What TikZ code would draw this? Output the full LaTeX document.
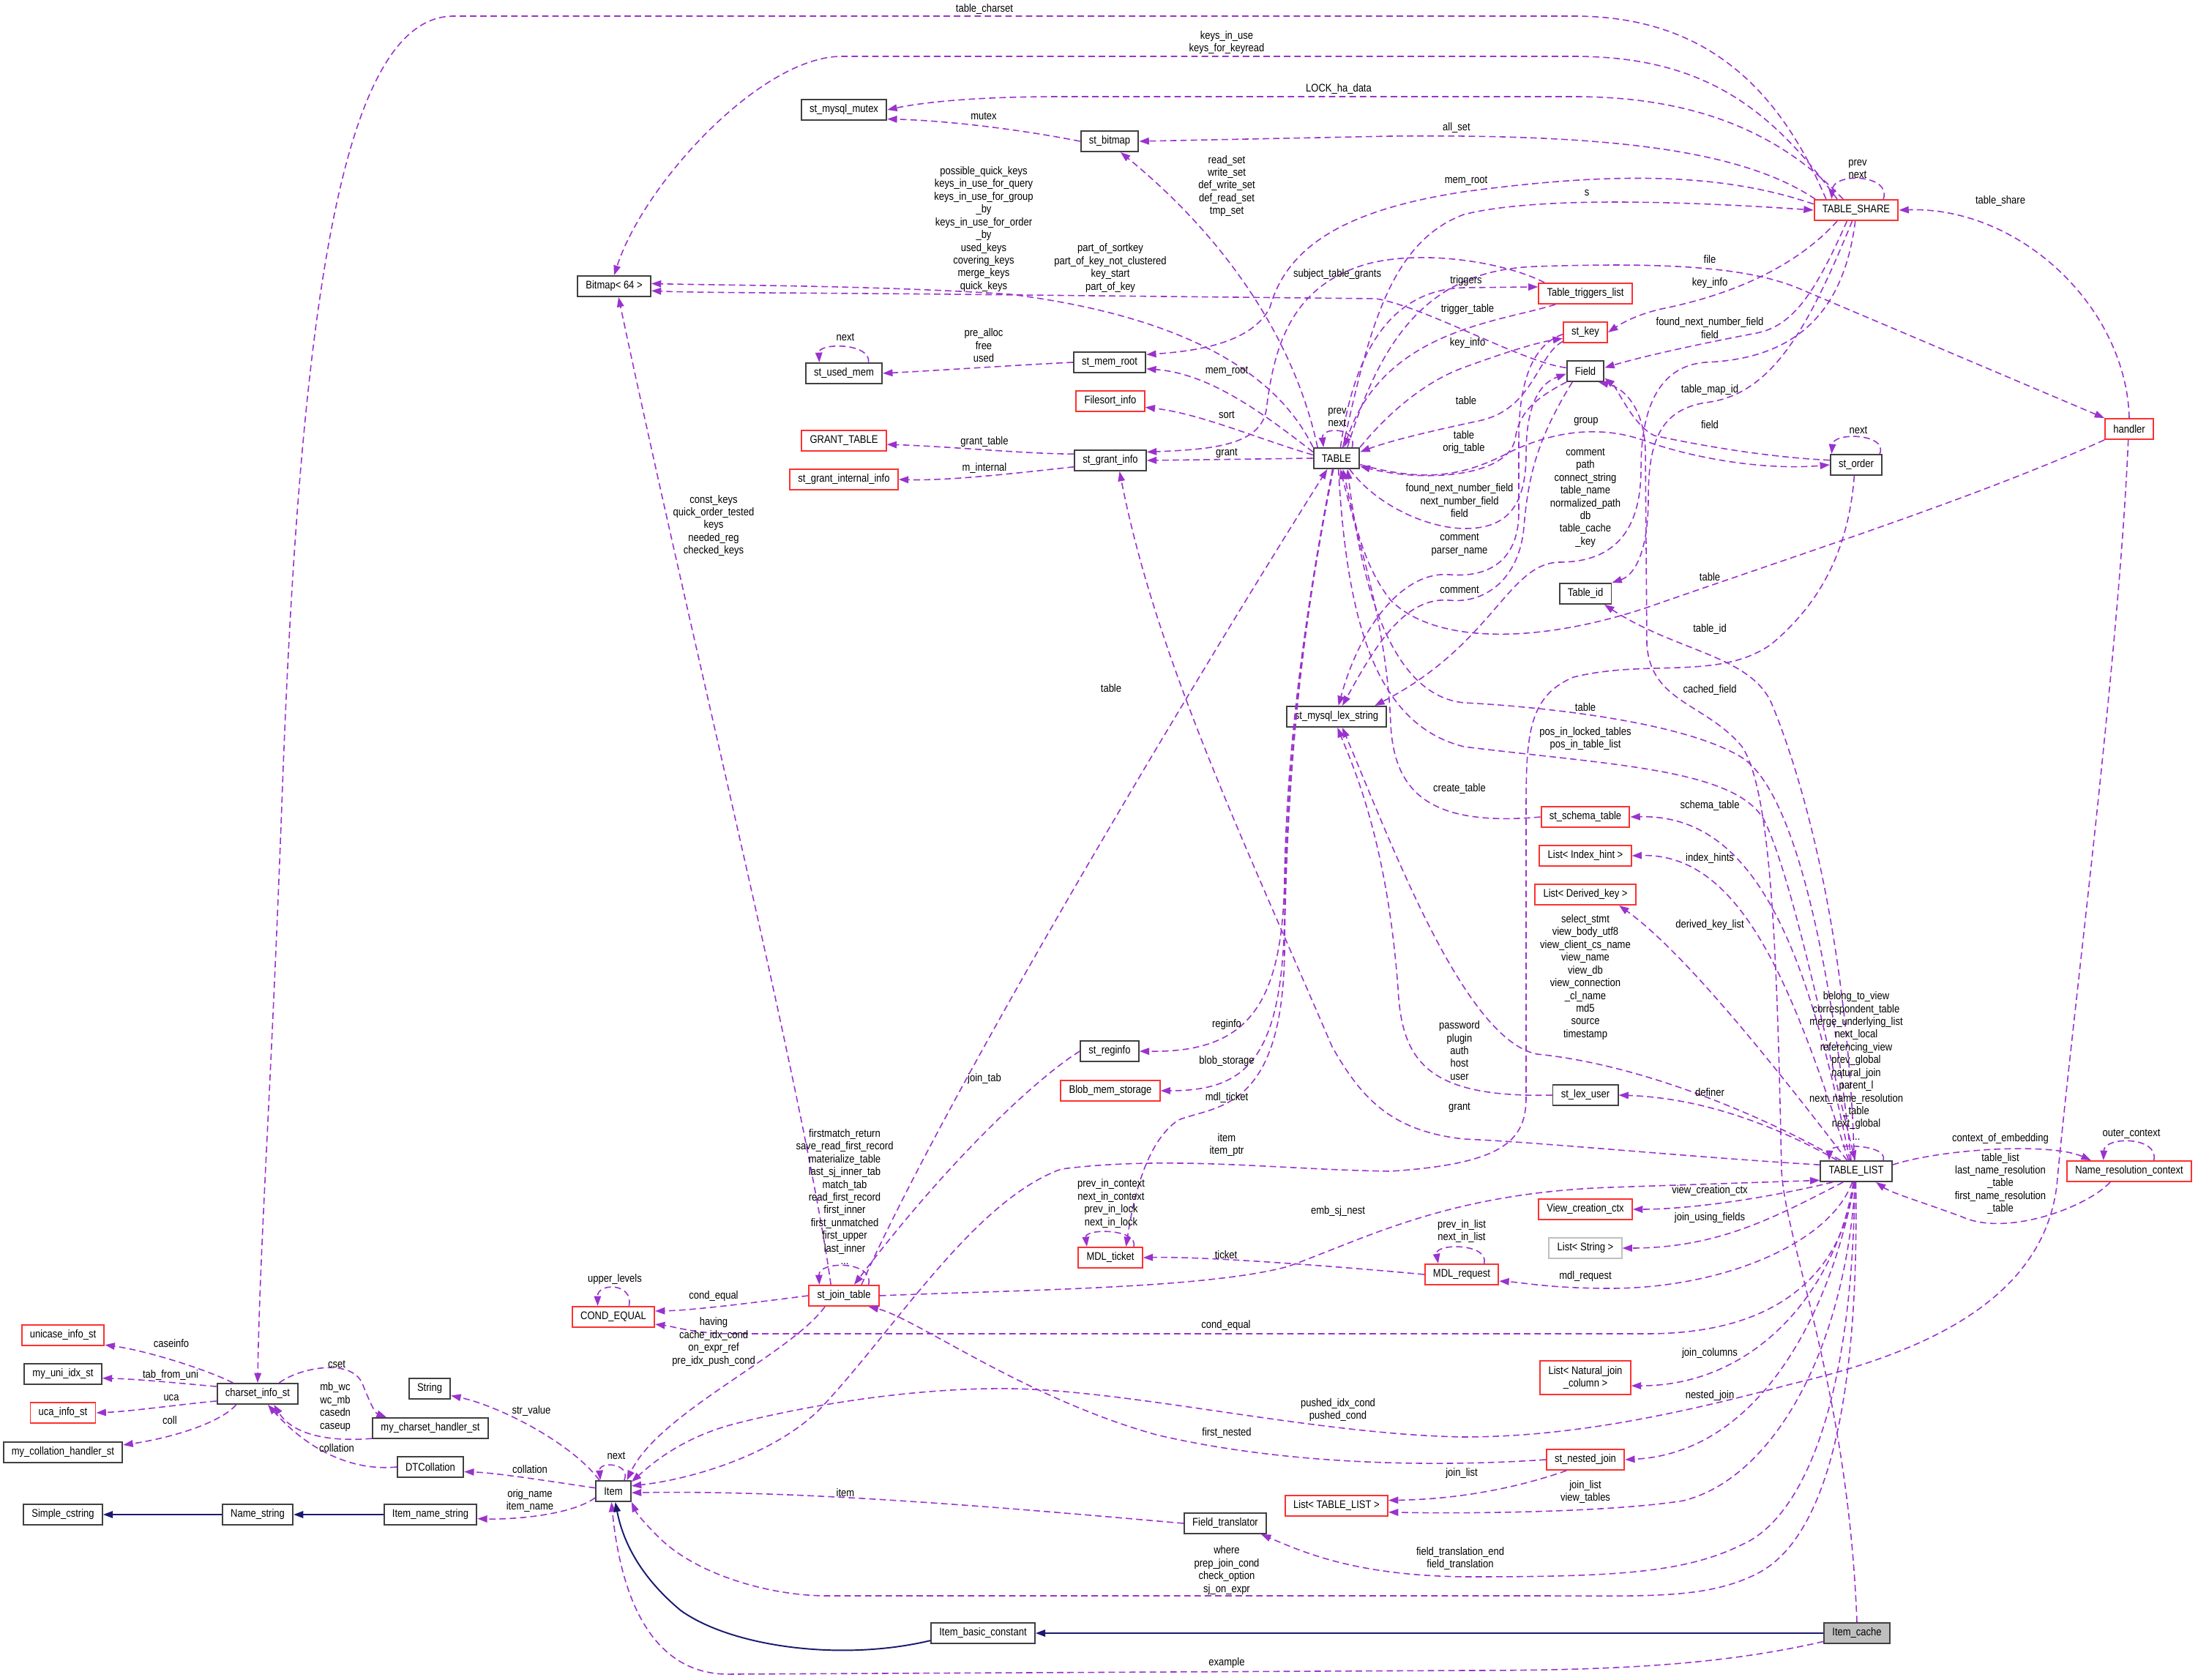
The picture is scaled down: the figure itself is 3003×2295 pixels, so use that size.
\documentclass[tikz,border=0pt]{standalone}
\usepackage{fontspec}
\newfontfamily\dxfont{Liberation Sans}[FakeStretch=0.86]
\usetikzlibrary{arrows.meta}
\definecolor{relpurple}{HTML}{9A32CD}
\definecolor{inhnavy}{HTML}{191970}
\definecolor{boxred}{HTML}{FF3030}
\definecolor{boxgray}{HTML}{BFBFBF}
\definecolor{boxdark}{HTML}{404040}
\newcommand{\dxsize}{\fontsize{4.3}{4.95}\selectfont}

\begin{document}
\begin{tikzpicture}[x=0.01cm,y=-0.01cm,
  cls/.style={draw=boxdark,line width=0.55pt,fill=white,font=\dxfont\dxsize,inner xsep=3.2pt,inner ysep=0pt,minimum height=0.28cm},
  redcls/.style={cls,draw=boxred},
  graycls/.style={cls,draw=boxgray},
  focuscls/.style={cls,fill=boxgray},
  rel/.style={relpurple,line width=0.45pt,dash pattern=on 2.5pt off 1.5pt,-{Triangle[length=3.8pt,width=2.7pt]}},
  inh/.style={inhnavy,line width=0.55pt,-{Triangle[length=3.8pt,width=2.7pt]}},
  lbl/.style={font=\dxfont\dxsize,align=center,inner sep=0pt}]
\useasboundingbox (0,0) rectangle (3003,2295);

% classes
\node[cls] (bitmap) at (839,391) {Bitmap< 64 >};
\node[cls] (mutex) at (1153,150) {st\_mysql\_mutex};
\node[cls] (stbitmap) at (1516,193) {st\_bitmap};
\node[cls] (usedmem) at (1153,510) {st\_used\_mem};
\node[cls] (memroot) at (1516,495) {st\_mem\_root};
\node[redcls] (filesort) at (1517,548) {Filesort\_info};
\node[redcls] (granttable) at (1153,602) {GRANT\_TABLE};
\node[cls] (grantinfo) at (1517,629) {st\_grant\_info};
\node[redcls] (grantint) at (1153,655) {st\_grant\_internal\_info};
\node[cls] (table) at (1826,626) {TABLE};
\node[redcls] (share) at (2536,287) {TABLE\_SHARE};
\node[redcls] (triggers) at (2166,401) {Table\_triggers\_list};
\node[redcls] (stkey) at (2166,454) {st\_key};
\node[cls] (field) at (2166,507) {Field};
\node[redcls] (handler) at (2909,586) {handler};
\node[cls] (order) at (2536,635) {st\_order};
\node[cls] (tableid) at (2166,811) {Table\_id};
\node[cls] (lexstr) at (1826,979) {st\_mysql\_lex\_string};
\node[redcls] (schema) at (2166,1116) {st\_schema\_table};
\node[redcls] (idxhint) at (2166,1169) {List< Index\_hint >};
\node[redcls] (derived) at (2166,1222) {List< Derived\_key >};
\node[cls] (lexuser) at (2166,1496) {st\_lex\_user};
\node[cls] (reginfo) at (1516,1436) {st\_reginfo};
\node[redcls] (blob) at (1517,1490) {Blob\_mem\_storage};
\node[cls] (tlist) at (2536,1600) {TABLE\_LIST};
\node[redcls] (nrctx) at (2909,1600) {Name\_resolution\_context};
\node[redcls] (viewctx) at (2166,1652) {View\_creation\_ctx};
\node[graycls] (liststr) at (2166,1705) {List< String >};
\node[redcls] (mdlreq) at (1997,1741) {MDL\_request};
\node[redcls] (mdlticket) at (1517,1718) {MDL\_ticket};
\node[redcls] (jointab) at (1153,1770) {st\_join\_table};
\node[redcls] (condeq) at (838,1799) {COND\_EQUAL};
\node[redcls,minimum height=0.46cm,align=center] (natjoin) at (2166,1882) {List< Natural\_join\\\_column >};
\node[redcls] (nested) at (2166,1994) {st\_nested\_join};
\node[redcls] (listtl) at (1826,2057) {List< TABLE\_LIST >};
\node[cls] (ftrans) at (1674,2081) {Field\_translator};
\node[cls] (basicconst) at (1343,2231) {Item\_basic\_constant};
\node[focuscls] (itemcache) at (2537,2231) {Item\_cache};
\node[cls] (item) at (838,2037) {Item};
\node[cls] (string) at (587,1897) {String};
\node[cls] (handlerst) at (588,1951) {my\_charset\_handler\_st};
\node[cls] (dtcoll) at (588,2004) {DTCollation};
\node[cls] (namestr) at (588,2069) {Item\_name\_string};
\node[cls] (namestring) at (352,2069) {Name\_string};
\node[cls] (cstring) at (86,2069) {Simple\_cstring};
\node[cls] (charset) at (352,1904) {charset\_info\_st};
\node[redcls] (unicase) at (86,1824) {unicase\_info\_st};
\node[cls] (uniidx) at (86,1877) {my\_uni\_idx\_st};
\node[redcls] (uca) at (86,1930) {uca\_info\_st};
\node[cls] (collhandler) at (86,1984) {my\_collation\_handler\_st};

% TABLE_SHARE members
\draw[rel] (share.160) .. controls (2430,120) and (2330,22) .. (2150,22) -- (620,22) .. controls (470,22) and (410,400) .. (385,1100) .. controls (370,1500) and (355,1700) .. (charset.north);
\draw[rel] (share.150) .. controls (2420,150) and (2330,77) .. (2150,77) -- (1150,77) .. controls (1040,77) and (880,250) .. (bitmap.north);
\draw[rel] (share.140) .. controls (2440,190) and (2330,132) .. (2150,132) -- (1450,132) .. controls (1330,132) and (1260,140) .. (mutex.east);
\draw[rel] (share.165) .. controls (2380,205) and (2200,183) .. (1900,186) -- (stbitmap.east);
\draw[rel] (share.172) .. controls (2350,235) and (2200,235) .. (2000,262) .. controls (1850,285) and (1760,330) .. (1735,420) .. controls (1710,470) and (1630,480) .. (memroot.12);
\draw[rel] (share.22) .. controls (2585,238) and (2505,235) .. (share.156);
\draw[rel] (share.-150) .. controls (2440,380) and (2330,410) .. (2270,422) .. controls (2235,430) and (2215,442) .. (stkey.east);
\draw[rel] (share.-130) .. controls (2480,400) and (2450,445) .. (2400,455) .. controls (2320,470) and (2240,488) .. (field.10);
\draw[rel] (share.-110) .. controls (2470,450) and (2420,540) .. (2330,550) .. controls (2270,560) and (2252,600) .. (2252,680) .. controls (2252,750) and (2235,785) .. (tableid.north east);
\draw[rel] (share.-95) .. controls (2520,420) and (2460,490) .. (2330,495) .. controls (2265,500) and (2242,560) .. (2242,640) .. controls (2242,720) and (2210,768) .. (2130,768) .. controls (2060,770) and (2040,880) .. (lexstr.16);
\draw[rel] (stbitmap.west) .. controls (1400,178) and (1300,165) .. (mutex.-12);
\draw[rel] (handler.north) .. controls (2905,420) and (2760,282) .. (share.east);

% TABLE members
\draw[rel] (table.150) .. controls (1770,470) and (1680,330) .. (stbitmap.-45);
\draw[rel] (table.165) .. controls (1720,560) and (1650,510) .. (memroot.-10);
\draw[rel] (table.60) .. controls (1870,450) and (1900,330) .. (2000,293) .. controls (2100,268) and (2300,275) .. (share.west);
\draw[rel] (table.45) .. controls (1890,450) and (1960,368) .. (2100,364) .. controls (2280,358) and (2390,365) .. (2460,395) -- (handler.north west);
\draw[rel] (table.172) .. controls (1720,600) and (1640,565) .. (filesort.-10);
\draw[rel] (table.west) -- (grantinfo.east);
\draw[rel] (table.35) .. controls (1855,583) and (1805,583) .. (table.140);
\draw[rel] (table.70) .. controls (1850,480) and (1900,396) .. (2000,393) -- (triggers.172);
\draw[rel] (table.25) .. controls (1900,560) and (1950,520) .. (2000,502) .. controls (2060,480) and (2100,468) .. (stkey.-165);
\draw[rel] (table.-40) .. controls (1880,690) and (1950,722) .. (2002,722) .. controls (2060,722) and (2085,690) .. (2085,620) .. controls (2085,560) and (2100,525) .. (field.-172);
\draw[rel] (table.-15) .. controls (1950,660) and (2000,650) .. (2064,617) .. controls (2110,595) and (2180,575) .. (2255,605) .. controls (2330,630) and (2420,642) .. (order.west);
\draw[rel] (table.155) .. controls (1740,500) and (1600,430) .. (1380,402) .. controls (1200,390) and (1000,390) .. (bitmap.4);
\draw[rel] (table.-80) .. controls (1840,850) and (1880,990) .. (2000,1020) .. controls (2200,1045) and (2370,1050) .. (2410,1120) .. controls (2450,1200) and (2500,1450) .. (tlist.95);
\draw[rel] (table.-110) .. controls (1790,800) and (1758,1000) .. (1755,1200) .. controls (1752,1380) and (1700,1438) .. (reginfo.east);
\draw[rel] (table.-108) .. controls (1790,800) and (1758,1000) .. (1755,1250) .. controls (1752,1450) and (1700,1490) .. (blob.east);
\draw[rel] (table.-106) .. controls (1790,800) and (1758,1000) .. (1755,1300) .. controls (1752,1520) and (1660,1510) .. (1610,1530) .. controls (1565,1560) and (1548,1640) .. (mdlticket.35);

% small classes round TABLE
\draw[rel] (memroot.west) .. controls (1400,498) and (1300,505) .. (usedmem.east);
\draw[rel] (usedmem.24) .. controls (1190,468) and (1118,468) .. (usedmem.156);
\draw[rel] (grantinfo.170) .. controls (1400,620) and (1300,610) .. (granttable.-5);
\draw[rel] (grantinfo.-170) .. controls (1400,645) and (1300,657) .. (grantint.east);
\draw[rel] (triggers.165) .. controls (2060,360) and (1950,340) .. (1870,360) .. controls (1760,390) and (1740,480) .. (1730,560) .. controls (1722,610) and (1650,614) .. (grantinfo.13);
\draw[rel] (triggers.-160) .. controls (2050,440) and (1890,450) .. (table.55);
\draw[rel] (stkey.-158) .. controls (2100,485) and (2095,560) .. (2020,575) .. controls (1950,590) and (1900,602) .. (table.15);
\draw[rel] (stkey.-175) .. controls (2090,472) and (2075,530) .. (2075,600) -- (2075,700) .. controls (2075,760) and (2040,790) .. (1980,785) .. controls (1920,780) and (1860,850) .. (lexstr.80);
\draw[rel] (field.-150) .. controls (2095,545) and (2075,565) .. (2070,600) .. controls (2060,650) and (1950,660) .. (table.-19);
\draw[rel] (field.-140) .. controls (2100,600) and (2088,650) .. (2082,720) .. controls (2076,790) and (2030,825) .. (1980,820) .. controls (1920,815) and (1880,880) .. (lexstr.62);
\draw[rel] (field.170) .. controls (2080,495) and (1950,420) .. (1880,408) -- (1300,402) .. controls (1100,400) and (950,400) .. (bitmap.-7);
\draw[rel] (order.170) .. controls (2420,625) and (2330,610) .. (2260,595) .. controls (2230,580) and (2210,530) .. (field.-20);
\draw[rel] (order.25) .. controls (2580,592) and (2505,590) .. (order.156);
\draw[rel] (order.-100) .. controls (2525,760) and (2480,830) .. (2420,880) .. controls (2350,930) and (2250,900) .. (2150,925) .. controls (2090,950) and (2085,1000) .. (2085,1100) -- (2085,1500) .. controls (2085,1560) and (2050,1590) .. (1900,1600) .. controls (1750,1598) and (1600,1578) .. (1450,1597) .. controls (1330,1640) and (1220,1820) .. (1120,1925) .. controls (1060,1985) and (950,2020) .. (item.16);
\draw[rel] (handler.south west) .. controls (2700,680) and (2450,760) .. (2250,830) .. controls (2100,880) and (1960,880) .. (1900,820) .. controls (1860,770) and (1848,700) .. (table.-60);
\draw[rel] (handler.-95) .. controls (2895,900) and (2830,1400) .. (2810,1620) .. controls (2790,1780) and (2620,1850) .. (2450,1890) .. controls (2300,1930) and (2150,1963) .. (2000,1963) .. controls (1800,1960) and (1550,1900) .. (1383,1897) .. controls (1250,1895) and (1100,1920) .. (1000,1946) .. controls (930,1965) and (890,2000) .. (item.27);
\draw[rel] (schema.west) .. controls (1950,1130) and (1905,1080) .. (1900,990) .. controls (1895,850) and (1850,720) .. (table.-70);
\draw[rel] (lexuser.west) .. controls (1950,1500) and (1915,1450) .. (1910,1350) .. controls (1895,1150) and (1850,1050) .. (lexstr.-85);
\draw[rel] (itemcache.north) .. controls (2525,1900) and (2440,1700) .. (2434,1600) .. controls (2428,1300) and (2420,1080) .. (2380,1020) .. controls (2330,960) and (2255,960) .. (2250,880) -- (2248,620) .. controls (2248,560) and (2220,530) .. (field.-40);

% TABLE_LIST members
\draw[rel] (tlist.100) .. controls (2525,1300) and (2470,1080) .. (2420,960) .. controls (2390,895) and (2290,890) .. (tableid.-30);
\draw[rel] (tlist.115) .. controls (2500,1300) and (2450,1080) .. (2380,1035) .. controls (2300,985) and (2100,965) .. (2000,960) .. controls (1900,950) and (1860,800) .. (table.-45);
\draw[rel] (tlist.120) .. controls (2470,1300) and (2400,1112) .. (schema.east);
\draw[rel] (tlist.125) .. controls (2450,1350) and (2380,1165) .. (idxhint.east);
\draw[rel] (tlist.130) .. controls (2420,1450) and (2300,1300) .. (derived.-18);
\draw[rel] (tlist.145) .. controls (2420,1530) and (2250,1455) .. (2100,1440) .. controls (2000,1420) and (1900,1150) .. (lexstr.-62);
\draw[rel] (tlist.150) .. controls (2430,1540) and (2330,1500) .. (lexuser.east);
\draw[rel] (tlist.170) .. controls (2300,1580) and (2100,1560) .. (2000,1556) .. controls (1900,1545) and (1860,1500) .. (1820,1430) .. controls (1700,1150) and (1580,900) .. (grantinfo.-50);
\draw[rel] (tlist.22) .. controls (2580,1562) and (2500,1562) .. (tlist.158);
\draw[rel] (tlist.10) .. controls (2650,1570) and (2800,1560) .. (nrctx.164);
\draw[rel] (nrctx.-150) .. controls (2850,1650) and (2740,1690) .. (2680,1662) .. controls (2620,1640) and (2585,1630) .. (tlist.-29);
\draw[rel] (nrctx.24) .. controls (2950,1552) and (2875,1552) .. (nrctx.157);
\draw[rel] (tlist.-155) .. controls (2400,1640) and (2300,1652) .. (viewctx.east);
\draw[rel] (tlist.-140) .. controls (2430,1660) and (2350,1705) .. (liststr.east);
\draw[rel] (tlist.-110) .. controls (2500,1700) and (2350,1760) .. (2200,1760) .. controls (2120,1760) and (2080,1752) .. (mdlreq.-10);
\draw[rel] (tlist.-100) .. controls (2520,1720) and (2450,1822) .. (2250,1822) -- (1000,1822) .. controls (950,1822) and (920,1812) .. (condeq.-10);
\draw[rel] (tlist.-105) .. controls (2510,1760) and (2400,1893) .. (natjoin.-10);
\draw[rel] (tlist.-98) .. controls (2500,1800) and (2400,1985) .. (nested.east);
\draw[rel] (tlist.-95) .. controls (2520,1850) and (2420,2020) .. (2300,2050) .. controls (2200,2066) and (2000,2068) .. (listtl.-7);
\draw[rel] (tlist.-97) .. controls (2530,1950) and (2450,2080) .. (2380,2110) .. controls (2300,2150) and (2200,2154) .. (2000,2154) .. controls (1850,2152) and (1780,2120) .. (ftrans.-17);
\draw[rel] (tlist.-92) .. controls (2540,1900) and (2500,2100) .. (2400,2150) .. controls (2330,2185) and (2250,2180) .. (2100,2180) -- (1130,2180) .. controls (1050,2180) and (950,2150) .. (900,2100) .. controls (880,2080) and (870,2068) .. (item.-31);

% join and lock structures
\draw[rel] (jointab.32) .. controls (1300,1480) and (1650,900) .. (table.-130);
\draw[rel] (reginfo.west) .. controls (1420,1470) and (1300,1580) .. (jointab.47);
\draw[rel] (jointab.140) .. controls (1100,1500) and (950,900) .. (bitmap.-68);
\draw[rel] (jointab.24) .. controls (1195,1722) and (1118,1722) .. (jointab.156);
\draw[rel] (jointab.west) .. controls (1040,1778) and (950,1790) .. (condeq.8);
\draw[rel] (condeq.35) .. controls (866,1752) and (816,1752) .. (condeq.145);
\draw[rel] (jointab.-150) .. controls (1080,1850) and (900,1930) .. (item.39);
\draw[rel] (jointab.east) .. controls (1400,1762) and (1650,1760) .. (1760,1730) .. controls (1870,1690) and (1980,1630) .. (2200,1622) -- (tlist.-166);
\draw[rel] (mdlticket.25) .. controls (1555,1678) and (1482,1678) .. (mdlticket.155);
\draw[rel] (mdlreq.west) .. controls (1850,1732) and (1650,1716) .. (mdlticket.east);
\draw[rel] (mdlreq.26) .. controls (2035,1698) and (1960,1698) .. (mdlreq.155);
\draw[rel] (nested.west) .. controls (1950,2005) and (1750,2000) .. (1580,1960) .. controls (1400,1910) and (1250,1800) .. (jointab.-24);
\draw[rel] (nested.-150) .. controls (2080,2030) and (2000,2048) .. (listtl.6);
\draw[rel] (ftrans.west) .. controls (1400,2062) and (1100,2035) .. (item.-5);
\draw[rel] (itemcache.-166) .. controls (2350,2275) and (2200,2282) .. (2000,2282) -- (1000,2287) .. controls (900,2290) and (850,2200) .. (item.-100);

% Item and strings
\draw[inh] (basicconst.-172) .. controls (1150,2270) and (1000,2250) .. (930,2200) .. controls (870,2150) and (850,2100) .. (item.-80);
\draw[inh] (itemcache.west) -- (basicconst.east);
\draw[inh] (namestr.west) -- (namestring.east);
\draw[inh] (namestring.west) -- (cstring.east);
\draw[rel] (item.142) .. controls (780,1970) and (680,1920) .. (string.-18);
\draw[rel] (item.170) .. controls (760,2025) and (680,2012) .. (dtcoll.-8);
\draw[rel] (item.-160) .. controls (780,2070) and (700,2076) .. (namestr.-5);
\draw[rel] (item.45) .. controls (862,1998) and (818,1996) .. (item.140);
\draw[rel] (dtcoll.west) .. controls (480,2010) and (420,1980) .. (charset.-47);
\draw[rel] (charset.27) .. controls (410,1868) and (480,1855) .. (495,1890) .. controls (505,1915) and (512,1930) .. (handlerst.166);
\draw[rel] (handlerst.-170) .. controls (450,1970) and (400,1960) .. (charset.-34);
\draw[rel] (charset.156) .. controls (280,1870) and (200,1845) .. (unicase.-13);
\draw[rel] (charset.170) .. controls (250,1890) and (190,1884) .. (uniidx.-6);
\draw[rel] (charset.-170) .. controls (250,1918) and (180,1928) .. (uca.east);
\draw[rel] (charset.-153) .. controls (300,1945) and (230,1965) .. (collhandler.7);

% labels
\node[lbl] (lTableCharset) at (1345,13) {table\_charset};
\node[lbl] (lKeysInUse) at (1676,58) {keys\_in\_use\\keys\_for\_keyread};
\node[lbl] (lLock) at (1829,122) {LOCK\_ha\_data};
\node[lbl] (lMutex) at (1344,159) {mutex};
\node[lbl] (lAllSet) at (1990,175) {all\_set};
\node[lbl] (lReadSet) at (1676,254) {read\_set\\write\_set\\def\_write\_set\\def\_read\_set\\tmp\_set};
\node[lbl] (lMemRootA) at (2003,247) {mem\_root};
\node[lbl] (lMemRootB) at (1676,507) {mem\_root};
\node[lbl] (lS) at (2168,264) {s};
\node[lbl] (lSharePrev) at (2538,231) {prev\\next};
\node[lbl] (lTableShare) at (2733,275) {table\_share};
\node[lbl] (lFile) at (2336,354) {file};
\node[lbl] (lKeyInfoA) at (2336,387) {key\_info};
\node[lbl] (lFoundA) at (2336,448) {found\_next\_number\_field\\field};
\node[lbl] (lMapId) at (2336,533) {table\_map\_id};
\node[lbl] (lSharePath) at (2166,680) {comment\\path\\connect\_string\\table\_name\\normalized\_path\\db\\table\_cache\\\_key};
\node[lbl] (lHandlerTable) at (2336,788) {table};
\node[lbl] (lTableId) at (2336,860) {table\_id};
\node[lbl] (lCached) at (2336,943) {cached\_field};
\node[lbl] (lTlTable) at (2166,966) {table};
\node[lbl] (lPos) at (2166,1009) {pos\_in\_locked\_tables\\pos\_in\_table\_list};
\node[lbl] (lCreate) at (1994,1078) {create\_table};
\node[lbl] (lSchema) at (2336,1101) {schema\_table};
\node[lbl] (lIdxHint) at (2336,1173) {index\_hints};
\node[lbl] (lDerived) at (2336,1264) {derived\_key\_list};
\node[lbl] (lSelect) at (2166,1335) {select\_stmt\\view\_body\_utf8\\view\_client\_cs\_name\\view\_name\\view\_db\\view\_connection\\\_cl\_name\\md5\\source\\timestamp};
\node[lbl] (lPassword) at (1994,1435) {password\\plugin\\auth\\host\\user};
\node[lbl] (lDefiner) at (2336,1492) {definer};
\node[lbl] (lGrantB) at (1994,1513) {grant};
\node[lbl] (lReginfo) at (1676,1400) {reginfo};
\node[lbl] (lBlob) at (1676,1450) {blob\_storage};
\node[lbl] (lMdlTicket) at (1676,1500) {mdl\_ticket};
\node[lbl] (lItemPtr) at (1676,1564) {item\\item\_ptr};
\node[lbl] (lJoinTable) at (1518,940) {table};
\node[lbl] (lJoinTab) at (1345,1474) {join\_tab};
\node[lbl] (lConstKeys) at (975,718) {const\_keys\\quick\_order\_tested\\keys\\needed\_reg\\checked\_keys};
\node[lbl] (lJoinLoop) at (1154,1635) {firstmatch\_return\\save\_read\_first\_record\\materialize\_table\\last\_sj\_inner\_tab\\match\_tab\\read\_first\_record\\first\_inner\\first\_unmatched\\first\_upper\\last\_inner\\...};
\node[lbl] (lCondEqA) at (975,1771) {cond\_equal};
\node[lbl] (lUpper) at (840,1748) {upper\_levels};
\node[lbl] (lHaving) at (975,1833) {having\\cache\_idx\_cond\\on\_expr\_ref\\pre\_idx\_push\_cond};
\node[lbl] (lCondEqB) at (1675,1811) {cond\_equal};
\node[lbl] (lTicketLoop) at (1518,1644) {prev\_in\_context\\next\_in\_context\\prev\_in\_lock\\next\_in\_lock};
\node[lbl] (lTicket) at (1675,1714) {ticket};
\node[lbl] (lReqLoop) at (1997,1682) {prev\_in\_list\\next\_in\_list};
\node[lbl] (lMdlRequest) at (2166,1744) {mdl\_request};
\node[lbl] (lEmb) at (1828,1655) {emb\_sj\_nest};
\node[lbl] (lViewCtx) at (2336,1627) {view\_creation\_ctx};
\node[lbl] (lUsing) at (2336,1664) {join\_using\_fields};
\node[lbl] (lTlLoop) at (2536,1456) {belong\_to\_view\\correspondent\_table\\merge\_underlying\_list\\next\_local\\referencing\_view\\prev\_global\\natural\_join\\parent\_l\\next\_name\_resolution\\\_table\\next\_global\\...};
\node[lbl] (lContext) at (2733,1556) {context\_of\_embedding};
\node[lbl] (lTableList) at (2733,1617) {table\_list\\last\_name\_resolution\\\_table\\first\_name\_resolution\\\_table};
\node[lbl] (lOuter) at (2912,1549) {outer\_context};
\node[lbl] (lJoinCols) at (2336,1849) {join\_columns};
\node[lbl] (lNested) at (2336,1907) {nested\_join};
\node[lbl] (lFirstNested) at (1676,1958) {first\_nested};
\node[lbl] (lJoinListA) at (1997,2013) {join\_list};
\node[lbl] (lJoinListB) at (2166,2038) {join\_list\\view\_tables};
\node[lbl] (lPushed) at (1828,1926) {pushed\_idx\_cond\\pushed\_cond};
\node[lbl] (lWhere) at (1676,2145) {where\\prep\_join\_cond\\check\_option\\sj\_on\_expr};
\node[lbl] (lFtrans) at (1995,2129) {field\_translation\_end\\field\_translation};
\node[lbl] (lItem) at (1155,2039) {item};
\node[lbl] (lExample) at (1676,2272) {example};
\node[lbl] (lItemNext) at (842,1989) {next};
\node[lbl] (lStrValue) at (726,1928) {str\_value};
\node[lbl] (lCollA) at (724,2007) {collation};
\node[lbl] (lOrigName) at (724,2050) {orig\_name\\item\_name};
\node[lbl] (lCollB) at (460,1978) {collation};
\node[lbl] (lCset) at (460,1864) {cset};
\node[lbl] (lMbWc) at (458,1922) {mb\_wc\\wc\_mb\\casedn\\caseup};
\node[lbl] (lCaseinfo) at (234,1835) {caseinfo};
\node[lbl] (lTabFromUni) at (233,1879) {tab\_from\_uni};
\node[lbl] (lUca) at (234,1909) {uca};
\node[lbl] (lColl) at (232,1940) {coll};
\node[lbl] (lSort) at (1676,567) {sort};
\node[lbl] (lGrantA) at (1676,619) {grant};
\node[lbl] (lTablePrev) at (1827,570) {prev\\next};
\node[lbl] (lPreAlloc) at (1344,472) {pre\_alloc\\free\\used};
\node[lbl] (lUsedNext) at (1155,461) {next};
\node[lbl] (lGrantTable) at (1345,604) {grant\_table};
\node[lbl] (lInternal) at (1345,640) {m\_internal};
\node[lbl] (lSubject) at (1827,375) {subject\_table\_grants};
\node[lbl] (lTriggers) at (2003,384) {triggers};
\node[lbl] (lTriggerTable) at (2005,423) {trigger\_table};
\node[lbl] (lKeyInfoB) at (2005,469) {key\_info};
\node[lbl] (lKeyTable) at (2003,547) {table};
\node[lbl] (lOrigTable) at (2000,604) {table\\orig\_table};
\node[lbl] (lFoundB) at (1994,684) {found\_next\_number\_field\\next\_number\_field\\field};
\node[lbl] (lParser) at (1994,744) {comment\\parser\_name};
\node[lbl] (lFieldComment) at (1994,806) {comment};
\node[lbl] (lGroup) at (2167,576) {group};
\node[lbl] (lOrderField) at (2336,580) {field};
\node[lbl] (lOrderNext) at (2539,588) {next};
\node[lbl] (lQuickKeys) at (1344,313) {possible\_quick\_keys\\keys\_in\_use\_for\_query\\keys\_in\_use\_for\_group\\\_by\\keys\_in\_use\_for\_order\\\_by\\used\_keys\\covering\_keys\\merge\_keys\\quick\_keys};
\node[lbl] (lSortKey) at (1517,366) {part\_of\_sortkey\\part\_of\_key\_not\_clustered\\key\_start\\part\_of\_key};
\end{tikzpicture}
\end{document}
